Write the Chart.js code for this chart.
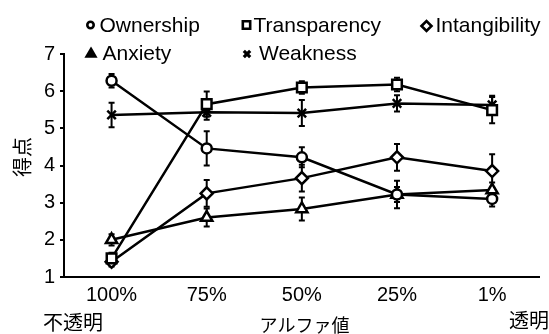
<!DOCTYPE html>
<html>
<head>
<meta charset="utf-8">
<script src="https://cdn.jsdelivr.net/npm/chart.js@4.4.1/dist/chart.umd.min.js"></script>
<style>
  html, body { margin: 0; padding: 0; background: #fff; }
  #wrap { width: 549px; height: 334px; position: relative; }
</style>
</head>
<body>
<div id="wrap"><canvas id="alphaChart"></canvas></div>
<script>
// alpha levels (x categories)
var alphaLabels = ['100%', '75%', '50%', '25%', '1%'];

// mean scores per condition
var ownership     = [6.28, 4.46, 4.22, 3.22, 3.10];
var transparency  = [1.50, 5.65, 6.10, 6.18, 5.49];
var intangibility = [1.41, 3.25, 3.66, 4.22, 3.85];
var anxiety       = [2.00, 2.60, 2.83, 3.22, 3.34];
var weakness      = [5.36, 5.43, 5.41, 5.67, 5.63];

// error bar half-lengths
var ownershipErr     = [0.18, 0.46, 0.27, 0.20, 0.20];
var transparencyErr  = [0.15, 0.34, 0.17, 0.18, 0.35];
var intangibilityErr = [0.13, 0.36, 0.36, 0.36, 0.45];
var anxietyErr       = [0.15, 0.24, 0.31, 0.37, 0.20];
var weaknessErr      = [0.33, 0.20, 0.35, 0.22, 0.25];

var yTicks = [1, 2, 3, 4, 5, 6, 7];

var FONT = "'Liberation Sans', Arial, Helvetica, sans-serif";
var JP = "'Noto Sans CJK JP', sans-serif";

Chart.defaults.font.family = FONT;
Chart.defaults.color = '#000';

function series(label, data, err, style, r) {
    return {
        label: label,
        data: data,
        errors: err,
        borderColor: '#000',
        borderWidth: 2.5,
        pointStyle: style,
        pointRadius: r,
        pointHoverRadius: r,
        pointBackgroundColor: '#fff',
        pointBorderColor: '#000',
        pointBorderWidth: 2.5,
        fill: false,
        tension: 0
    };
}

// whiskers, drawn under the lines and markers
var errorBars = {
    id: 'errorBars',
    beforeDatasetsDraw: function(chart) {
        var ctx = chart.ctx, y = chart.scales.y;
        ctx.save();
        ctx.strokeStyle = '#000';
        ctx.lineWidth = 2;
        chart.data.datasets.forEach(function(ds, i) {
            var meta = chart.getDatasetMeta(i);
            meta.data.forEach(function(pt, j) {
                var top = y.getPixelForValue(ds.data[j] + ds.errors[j]);
                var bot = y.getPixelForValue(ds.data[j] - ds.errors[j]);
                ctx.beginPath();
                ctx.moveTo(pt.x, top); ctx.lineTo(pt.x, bot);
                ctx.moveTo(pt.x - 3, top); ctx.lineTo(pt.x + 3, top);
                ctx.moveTo(pt.x - 3, bot); ctx.lineTo(pt.x + 3, bot);
                ctx.stroke();
            });
        });
        ctx.restore();
    }
};

// grid legend plus the extra axis captions
var legendItems = [
    { i: 0, mx: 90.5, my: 25, tx: 99.5, ty: 32, r: 3.2 },
    { i: 1, mx: 246.5, my: 25, tx: 253.5, ty: 32, r: 5.2 },
    { i: 2, mx: 426.5, my: 26, tx: 435.5, ty: 32, r: 5 },
    { i: 3, mx: 91, my: 54, tx: 102.5, ty: 60, r: 5 },
    { i: 4, mx: 247, my: 54, tx: 259, ty: 60, r: 4.5 }
];

var decorations = {
    id: 'decorations',
    afterDraw: function(chart) {
        var ctx = chart.ctx;
        ctx.save();
        legendItems.forEach(function(it) {
            var ds = chart.data.datasets[it.i];
            var filled = ds.pointStyle === 'triangle';
            ctx.fillStyle = filled ? '#000' : '#fff';
            ctx.strokeStyle = '#000';
            ctx.lineWidth = ds.pointStyle === 'crossRot' ? 3.2 : 2.6;
            Chart.helpers.drawPoint(ctx, { pointStyle: ds.pointStyle, radius: it.r, rotation: 0, borderWidth: ctx.lineWidth }, it.mx, it.my);
            ctx.fillStyle = '#000';
            ctx.font = '21px ' + FONT;
            ctx.textAlign = 'left';
            ctx.textBaseline = 'alphabetic';
            ctx.fillText(ds.label, it.tx, it.ty);
        });

        ctx.fillStyle = '#000';
        ctx.textBaseline = 'middle';
        ctx.font = '20px ' + JP;
        ctx.textAlign = 'center';
        ctx.fillText('不透明', 73, 322);
        ctx.textAlign = 'right';
        ctx.fillText('透明', 549, 320);
        ctx.font = '18px ' + JP;
        ctx.textAlign = 'center';
        ctx.fillText('アルファ値', 304.5, 325);

        ctx.translate(22.5, 157);
        ctx.rotate(-Math.PI / 2);
        ctx.font = '20px ' + JP;
        ctx.fillText('得点', 0, 0);
        ctx.restore();
    }
};

var ctx = document.getElementById('alphaChart').getContext('2d');
var alphaChart = new Chart(ctx, {
    type: 'line',
    data: {
        labels: alphaLabels,
        datasets: [
            series('Ownership', ownership, ownershipErr, 'circle', 5),
            series('Transparency', transparency, transparencyErr, 'rect', 6.8),
            series('Intangibility', intangibility, intangibilityErr, 'rectRot', 6),
            series('Anxiety', anxiety, anxietyErr, 'triangle', 6.5),
            series('Weakness', weakness, weaknessErr, 'crossRot', 6)
        ]
    },
    options: {
        responsive: true,
        maintainAspectRatio: false,
        animation: false,
        layout: { padding: { top: 54, left: 0, right: 0, bottom: 0 } },
        plugins: {
            legend: { display: false },
            tooltip: { enabled: false }
        },
        scales: {
            x: {
                type: 'category',
                offset: true,
                grid: { display: false, drawTicks: false },
                border: { display: true, color: '#000', width: 2 },
                ticks: { font: { size: 20 }, padding: 6, color: '#000', maxRotation: 0 },
                afterFit: function(s) { s.height = 57; }
            },
            y: {
                min: 1,
                max: 7,
                afterBuildTicks: function(s) { s.ticks = yTicks.map(function(v) { return { value: v }; }); },
                grid: { drawOnChartArea: false, drawTicks: true, tickLength: 4, color: '#000', lineWidth: 2 },
                border: { display: true, color: '#000', width: 2 },
                ticks: { font: { size: 20 }, padding: 5, color: '#000' },
                afterFit: function(s) { s.width = 64; }
            }
        }
    },
    plugins: [errorBars, decorations]
});
</script>
</body>
</html>
